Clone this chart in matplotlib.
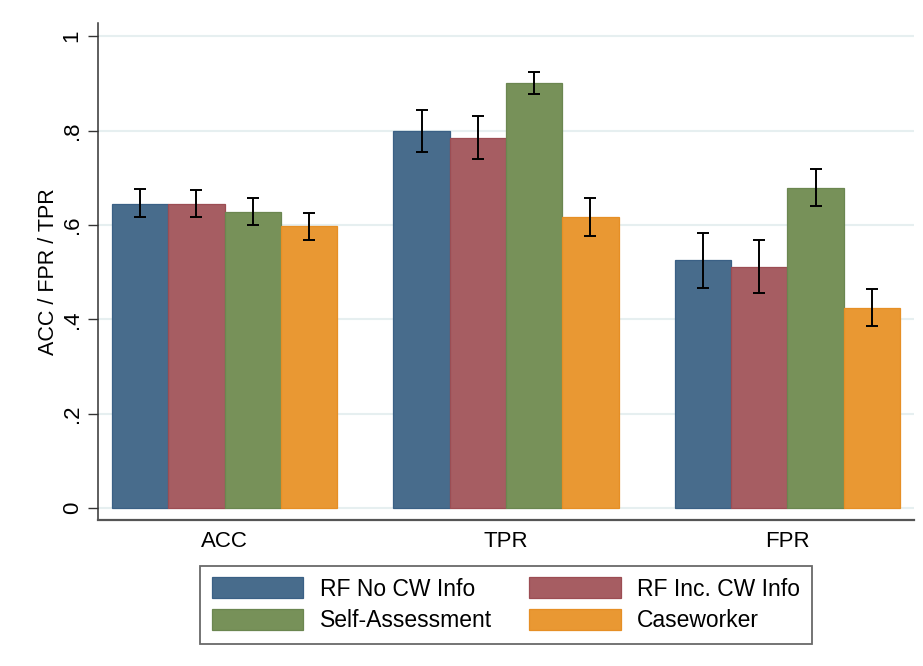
import matplotlib
matplotlib.use("Agg")
import matplotlib.pyplot as plt
import numpy as np

plt.rcParams['font.family'] = ['Liberation Sans', 'DejaVu Sans']

categories = ["ACC", "TPR", "FPR"]
series_names = ["RF No CW Info", "RF Inc. CW Info", "Self-Assessment", "Caseworker"]

rf_no_cw = [0.645, 0.799, 0.525]
rf_no_cw_lo = [0.616, 0.755, 0.467]
rf_no_cw_hi = [0.677, 0.843, 0.583]

rf_inc_cw = [0.645, 0.784, 0.511]
rf_inc_cw_lo = [0.616, 0.740, 0.457]
rf_inc_cw_hi = [0.675, 0.830, 0.568]

self_assess = [0.628, 0.900, 0.679]
self_assess_lo = [0.601, 0.878, 0.640]
self_assess_hi = [0.658, 0.924, 0.718]

caseworker = [0.597, 0.616, 0.425]
caseworker_lo = [0.569, 0.577, 0.386]
caseworker_hi = [0.626, 0.657, 0.465]

yticks = [0, 0.2, 0.4, 0.6, 0.8, 1.0]
ytick_labels = ["0", ".2", ".4", ".6", ".8", "1"]

fills = ["#486C8C", "#A65D62", "#779159", "#E99833"]
edges = ["#3A6085", "#9C4D53", "#6B8650", "#E68F25"]

values = [rf_no_cw, rf_inc_cw, self_assess, caseworker]
lows = [rf_no_cw_lo, rf_inc_cw_lo, self_assess_lo, caseworker_lo]
highs = [rf_no_cw_hi, rf_inc_cw_hi, self_assess_hi, caseworker_hi]

fig = plt.figure(figsize=(9.23, 6.66), dpi=100)
ax = fig.add_axes([98/923, 146/666, 816/923, 497/666])

x = np.arange(len(categories))
w = 0.2
handles = []
for i, (v, lo, hi) in enumerate(zip(values, lows, highs)):
    pos = x + (i - 1.5) * w
    b = ax.bar(pos, v, width=w, color=fills[i], edgecolor=edges[i], linewidth=0.9,
               label=series_names[i], zorder=2)
    handles.append(b)
    v = np.array(v); lo = np.array(lo); hi = np.array(hi)
    ax.errorbar(pos, v, yerr=[v - lo, hi - v], fmt='none', ecolor='black',
                elinewidth=1.4, capsize=4.2, capthick=1.4, zorder=3)

ax.set_xlim(-0.45, 2.45)
ax.set_ylim(-0.025, 1.028)
ax.set_yticks(yticks)
ax.set_yticklabels(ytick_labels, rotation=90, va='center')
ax.set_xticks(x)
ax.set_xticklabels(categories)
ax.tick_params(axis='x', length=0, pad=8, labelsize=16)
ax.tick_params(axis='y', length=7, width=1.0, color='#333333', pad=4, labelsize=16)
ax.set_ylabel("ACC / FPR / TPR", fontsize=15.5, labelpad=2)

ax.yaxis.grid(True, color='#E6EFF0', linewidth=1.5, zorder=0)
ax.set_axisbelow(True)
for s in ['top', 'right']:
    ax.spines[s].set_visible(False)
ax.spines['left'].set_color('#333333')
ax.spines['left'].set_linewidth(1.1)
ax.spines['bottom'].set_color('#555555')
ax.spines['bottom'].set_linewidth(1.6)

order = [0, 2, 1, 3]
leg = ax.legend([handles[k] for k in order], [series_names[k] for k in order],
                loc='upper center', bbox_to_anchor=(506/923, 1 - 566/666),
                bbox_transform=fig.transFigure, ncol=2, fontsize=16.5,
                frameon=True, fancybox=False, edgecolor='#444444',
                handlelength=4.0, handleheight=1.0, handletextpad=0.7,
                columnspacing=1.65, labelspacing=0.38, borderpad=0.5,
                borderaxespad=0)
leg.get_frame().set_linewidth(1.3)

fig.savefig("out.png", dpi=100, facecolor='white')
